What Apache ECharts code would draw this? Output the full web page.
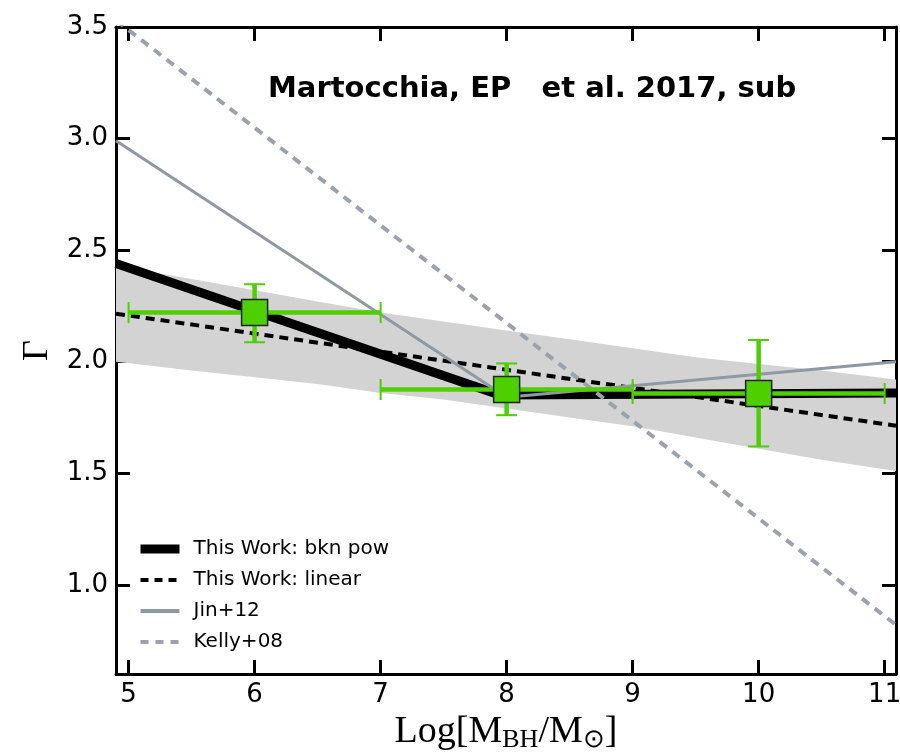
<!DOCTYPE html>
<html><head><meta charset="utf-8">
<script src="https://cdn.jsdelivr.net/npm/echarts@6/dist/echarts.min.js"></script>
<style>html,body{margin:0;padding:0;background:#fff}#c{width:900px;height:753px}</style>
</head><body><div id="c"></div>
<script>
// ---- data ----
const xTicks = [5, 6, 7, 8, 9, 10, 11];
const yTicks = [1.0, 1.5, 2.0, 2.5, 3.0, 3.5];

const bandX  = [4.9, 5.5, 6.0, 6.5, 7.0, 7.5, 8.0, 8.5, 9.0, 9.5, 10.0, 10.5, 11.09];
const bandHi = [2.43, 2.37, 2.32, 2.27, 2.22, 2.18, 2.14, 2.10, 2.06, 2.02, 1.99, 1.96, 1.92];
const bandLo = [2.00, 1.96, 1.93, 1.90, 1.86, 1.83, 1.79, 1.75, 1.71, 1.66, 1.61, 1.56, 1.51];

const bknX = [4.9, 7.95, 11.09];
const bknY = [2.44, 1.85, 1.86];
const linX = [4.9, 11.09];
const linY = [2.215, 1.713];
const jinX = [4.9, 8.0, 11.09];
const jinY = [2.99, 1.84, 2.0];
const kellyX = [4.9, 11.09];
const kellyY = [3.53, 0.82];

const ptX    = [6, 8, 10];
const ptY    = [2.22, 1.875, 1.857];
const ptXlo  = [5, 7, 9];
const ptXhi  = [7, 9, 11];
const ptYlo  = [2.087, 1.76, 1.62];
const ptYhi  = [2.347, 1.992, 2.097];

const seriesNames = ['This Work: bkn pow', 'This Work: linear', 'Jin+12', 'Kelly+08'];
const titleText = 'Martocchia, EP   et al. 2017, sub';

// ---- build ----
const zip = (a, b) => a.map((v, i) => [v, b[i]]);
const GREEN = '#4dcf00';
const GREY = '#8f99a4';
const KGREY = '#9aa3ad';
const X0 = 4.9, X1 = 11.09, Y0 = 0.6, Y1 = 3.5;

const chart = echarts.init(document.getElementById('c'), null, {renderer: 'canvas'});

const axisCommon = {
  type: 'value',
  axisLine: {show: true, lineStyle: {color: '#000', width: 3}},
  splitLine: {show: false},
  axisTick: {show: true, inside: true, length: 14, lineStyle: {color: '#000', width: 3}},
};

const option = {
  animation: false,
  backgroundColor: '#fff',
  grid: {left: 116, right: 4, top: 27, bottom: 79, containLabel: false, outerBoundsMode: 'none'},
  xAxis: [
    Object.assign({}, axisCommon, {
      min: X0, max: X1, position: 'bottom',
      axisTick: Object.assign({}, axisCommon.axisTick, {customValues: xTicks}),
      axisLabel: {customValues: xTicks, color: '#000', fontSize: 26, fontFamily: 'DejaVu Sans', margin: 8,
        formatter: v => String(Math.round(v))},
      name: '{n|Log[M}{s|BH}{n|/M}{s|⊙}{n|]}', nameLocation: 'middle', nameGap: 37,
      nameTextStyle: {rich: {
        n: {fontFamily: 'Liberation Serif', fontSize: 38, color: '#000'},
        s: {fontFamily: 'Liberation Serif', fontSize: 26, color: '#000', verticalAlign: 'bottom', padding: [16, 0, 0, 0]}
      }}
    }),
    Object.assign({}, axisCommon, {
      min: X0, max: X1, position: 'top',
      axisTick: Object.assign({}, axisCommon.axisTick, {customValues: xTicks}),
      axisLabel: {show: false}
    })
  ],
  yAxis: [
    Object.assign({}, axisCommon, {
      min: Y0, max: Y1, position: 'left',
      axisTick: Object.assign({}, axisCommon.axisTick, {customValues: yTicks}),
      axisLabel: {customValues: yTicks, color: '#000', fontSize: 26, fontFamily: 'DejaVu Sans', margin: 8,
        formatter: v => v.toFixed(1)},
      name: 'Γ', nameLocation: 'middle', nameGap: 60, nameRotate: 90,
      nameTextStyle: {fontFamily: 'Liberation Serif', fontSize: 36, color: '#000'}
    }),
    Object.assign({}, axisCommon, {
      min: Y0, max: Y1, position: 'right',
      axisTick: Object.assign({}, axisCommon.axisTick, {customValues: yTicks}),
      axisLabel: {show: false}
    })
  ],
  legend: {
    data: [
      {name: seriesNames[0], itemStyle: {opacity: 0}, lineStyle: {width: 9, color: '#000'}},
      {name: seriesNames[1], itemStyle: {opacity: 0}, lineStyle: {width: 4, color: '#000', type: [8, 6]}},
      {name: seriesNames[2], itemStyle: {opacity: 0}, lineStyle: {width: 4, color: GREY}},
      {name: seriesNames[3], itemStyle: {opacity: 0}, lineStyle: {width: 4, color: KGREY, type: [8, 7]}}
    ],
    orient: 'vertical', left: 136, top: 539, padding: 0,
    itemWidth: 39, itemHeight: 14, itemGap: 11,
    textStyle: {fontFamily: 'DejaVu Sans', fontSize: 20, lineHeight: 20, color: '#000', padding: [0, 0, 0, 9]},
    selectedMode: false
  },
  graphic: [{
    type: 'text', x: 268, y: 89, z: 100,
    style: {text: titleText, font: 'bold 29px "DejaVu Sans"', fill: '#000', verticalAlign: 'middle', align: 'left'}
  }],
  series: [
    {
      type: 'custom', name: 'band', silent: true, z: 1,
      data: [0],
      renderItem: (params, api) => {
        const pts = [];
        bandX.forEach((x, i) => pts.push(api.coord([x, bandHi[i]])));
        for (let i = bandX.length - 1; i >= 0; i--) pts.push(api.coord([bandX[i], bandLo[i]]));
        return {type: 'polygon', shape: {points: pts}, style: {fill: '#d3d3d3'}};
      },
      clip: true
    },
    {name: seriesNames[0], type: 'line', data: zip(bknX, bknY), symbol: 'none', z: 2,
      lineStyle: {color: '#000', width: 9}, itemStyle: {color: '#000'}},
    {name: seriesNames[1], type: 'line', data: zip(linX, linY), symbol: 'none', z: 3,
      lineStyle: {color: '#000', width: 4, type: [9, 6]}, itemStyle: {color: '#000'}},
    {name: seriesNames[2], type: 'line', data: zip(jinX, jinY), symbol: 'none', z: 4,
      lineStyle: {color: GREY, width: 3}, itemStyle: {color: GREY}},
    {name: seriesNames[3], type: 'line', data: zip(kellyX, kellyY), symbol: 'none', z: 5,
      lineStyle: {color: KGREY, width: 4, type: [9, 7]}, itemStyle: {color: KGREY}},
    {
      type: 'custom', name: 'errors', silent: true, z: 6,
      data: ptX.map((x, i) => [x, ptY[i], ptXlo[i], ptXhi[i], ptYlo[i], ptYhi[i]]),
      renderItem: (params, api) => {
        const x = api.value(0), y = api.value(1);
        const l = api.coord([api.value(2), y]), r = api.coord([api.value(3), y]);
        const b = api.coord([x, api.value(4)]), t = api.coord([x, api.value(5)]);
        const cap = 10.5;
        const s1 = {stroke: GREEN, lineWidth: 4.5};
        const s2 = {stroke: GREEN, lineWidth: 2};
        return {type: 'group', children: [
          {type: 'line', shape: {x1: l[0], y1: l[1], x2: r[0], y2: r[1]}, style: s1},
          {type: 'line', shape: {x1: b[0], y1: b[1], x2: t[0], y2: t[1]}, style: s1},
          {type: 'line', shape: {x1: l[0], y1: l[1] - cap, x2: l[0], y2: l[1] + cap}, style: s2},
          {type: 'line', shape: {x1: r[0], y1: r[1] - cap, x2: r[0], y2: r[1] + cap}, style: s2},
          {type: 'line', shape: {x1: t[0] - cap, y1: t[1], x2: t[0] + cap, y2: t[1]}, style: s2},
          {type: 'line', shape: {x1: b[0] - cap, y1: b[1], x2: b[0] + cap, y2: b[1]}, style: s2}
        ]};
      }
    },
    {
      type: 'scatter', name: 'points', z: 7, silent: true,
      data: zip(ptX, ptY), symbol: 'rect', symbolSize: 26,
      itemStyle: {color: GREEN, borderColor: '#222', borderWidth: 1.5, opacity: 1}
    }
  ]
};
chart.setOption(option);
</script>
</body></html>
